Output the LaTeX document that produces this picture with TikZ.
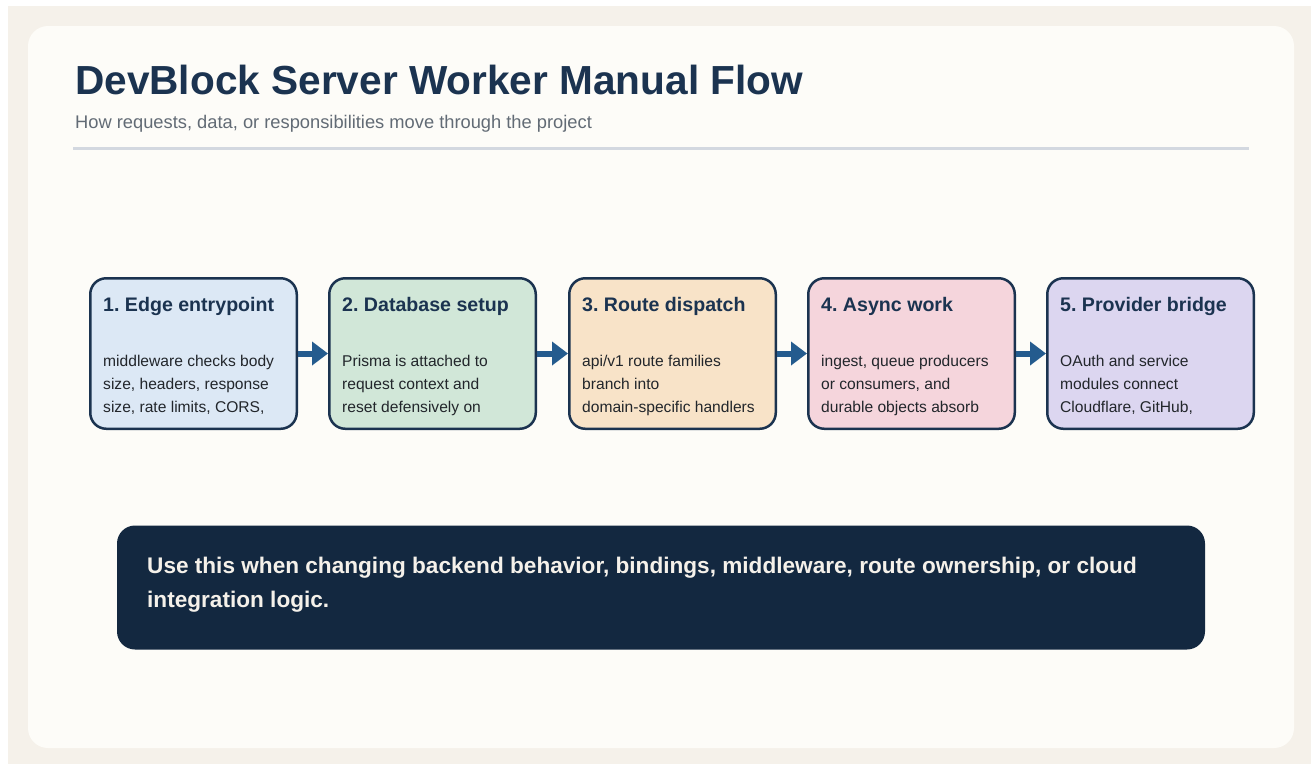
\documentclass[tikz,border=0pt]{standalone}
\usepackage{fontspec}
\setmainfont{Liberation Sans}
\usetikzlibrary{arrows.meta}
\frenchspacing

\definecolor{pagebg}{HTML}{F5F1EA}
\definecolor{cardbg}{HTML}{FDFCF8}
\definecolor{ink}{HTML}{1B3350}
\definecolor{subgray}{HTML}{626B75}
\definecolor{rulegray}{HTML}{D3D8E0}
\definecolor{bodyink}{HTML}{22262B}
\definecolor{flowblue}{HTML}{245B8E}
\definecolor{notebg}{HTML}{132840}
\definecolor{notetext}{HTML}{F5F1EA}
\definecolor{fillA}{HTML}{DCE8F5}
\definecolor{fillB}{HTML}{D1E7D8}
\definecolor{fillC}{HTML}{F8E3C8}
\definecolor{fillD}{HTML}{F5D5DC}
\definecolor{fillE}{HTML}{DCD6F0}

\newcommand{\bodylines}[1]{\parbox[t]{200pt}{\raggedright\fontsize{15.6}{23}\selectfont #1}}

\tikzset{
  stagebox/.style={draw=ink, line width=2.5pt, rounded corners=16pt,
    minimum width=206.5pt, minimum height=150.5pt, inner sep=0pt},
  stagetitle/.style={anchor=base west, inner sep=0pt, text=ink,
    font=\bfseries\fontsize{19.6}{23}\selectfont},
  stagebody/.style={anchor=base west, inner sep=0pt, text=bodyink},
  flow/.style={draw=flowblue, line width=6pt,
    -{Triangle[length=16pt,width=23pt,fill=flowblue]}},
}

\begin{document}
\begin{tikzpicture}[x=1pt,y=-1pt]
  \useasboundingbox (0,0) rectangle (1311,764);
  \fill[white] (0,0) rectangle (1311,764);
  \fill[pagebg] (8,6) rectangle (1311,764);
  \fill[cardbg, rounded corners=20pt] (28,26) rectangle (1294,748);

  % heading
  \node[anchor=base west, inner sep=0pt, text=ink,
        font=\bfseries\fontsize{40.6}{44}\selectfont] (title) at (75,94.5)
        {DevBlock Server Worker Manual Flow};
  \node[anchor=base west, inner sep=0pt, text=subgray,
        font=\fontsize{18.3}{22}\selectfont] (subtitle) at (75,128.5)
        {How requests, data, or responsibilities move through the project};
  \draw[rulegray, line width=3pt] (73,148) -- (1249,148);

  % stages
  \node[stagebox, fill=fillA] (s1) at (193.5,353.5) {};
  \node[stagebox, fill=fillB] (s2) at (432.5,353.5) {};
  \node[stagebox, fill=fillC] (s3) at (672.5,353.5) {};
  \node[stagebox, fill=fillD] (s4) at (911.5,353.5) {};
  \node[stagebox, fill=fillE] (s5) at (1150.5,353.5) {};

  \node[stagetitle] (t1) at (103,311) {1. Edge entrypoint};
  \node[stagetitle] (t2) at (342,311) {2. Database setup};
  \node[stagetitle] (t3) at (582,311) {3. Route dispatch};
  \node[stagetitle] (t4) at (821,311) {4. Async work};
  \node[stagetitle] (t5) at (1060,311) {5. Provider bridge};

  \node[stagebody] (b1) at (103,366)
    {\bodylines{middleware checks body\\size, headers, response\\size, rate limits, CORS,}};
  \node[stagebody] (b2) at (342,366)
    {\bodylines{Prisma is attached to\\request context and\\reset defensively on}};
  \node[stagebody] (b3) at (582,366)
    {\bodylines{api/v1 route families\\branch into\\domain-specific handlers}};
  \node[stagebody] (b4) at (821,366)
    {\bodylines{ingest, queue producers\\or consumers, and\\durable objects absorb}};
  \node[stagebody] (b5) at (1060,366)
    {\bodylines{OAuth and service\\modules connect\\Cloudflare, GitHub,}};

  \draw[flow] (s1) -- (s2);
  \draw[flow] (s2) -- (s3);
  \draw[flow] (s3) -- (s4);
  \draw[flow] (s4) -- (s5);

  % usage note
  \node[fill=notebg, rounded corners=18pt, minimum width=1088pt,
        minimum height=124pt, inner sep=0pt] (note) at (661,587.5) {};
  \node[anchor=base west, inner sep=0pt, text=notetext] (notetxt) at (147,573)
    {\parbox[t]{1050pt}{\raggedright\bfseries\fontsize{22.6}{34.5}\selectfont
      Use this when changing backend behavior, bindings, middleware, route ownership, or cloud\\
      integration logic.}};
\end{tikzpicture}
\end{document}
